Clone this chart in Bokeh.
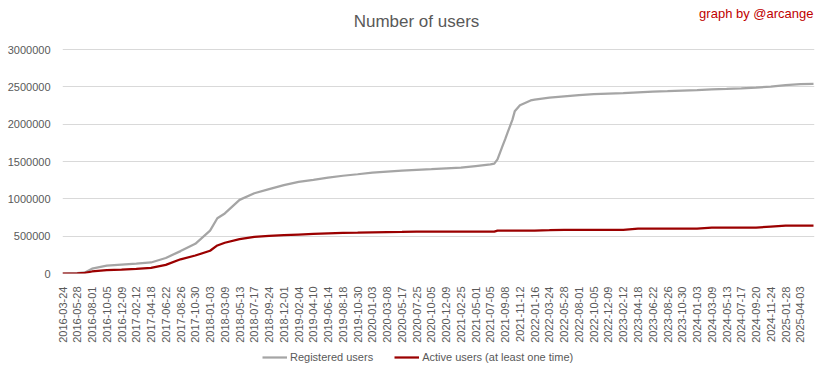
import math
from datetime import date
import numpy as np
from bokeh.plotting import figure
from bokeh.layouts import column
from bokeh.models import (FixedTicker, Legend, LegendItem, Label, Range1d,
                          NumeralTickFormatter, ColumnDataSource)
from bokeh.embed import file_html
from bokeh.resources import INLINE

tick_labels = ["2016-03-24", "2016-05-28", "2016-08-01", "2016-10-05", "2016-12-09",
               "2017-02-12", "2017-04-18", "2017-06-22", "2017-08-26", "2017-10-30",
               "2018-01-03", "2018-03-09", "2018-05-13", "2018-07-17", "2018-09-24",
               "2018-12-01", "2019-02-04", "2019-04-10", "2019-06-14", "2019-08-18",
               "2019-10-30", "2020-01-03", "2020-03-08", "2020-05-17", "2020-07-25",
               "2020-10-05", "2020-12-09", "2021-02-25", "2021-05-01", "2021-07-05",
               "2021-09-08", "2021-11-12", "2022-01-16", "2022-03-24", "2022-05-28",
               "2022-08-01", "2022-10-05", "2022-12-09", "2023-02-12", "2023-04-18",
               "2023-06-22", "2023-08-26", "2023-10-30", "2024-01-03", "2024-03-09",
               "2024-05-13", "2024-07-17", "2024-09-20", "2024-11-24", "2025-01-28",
               "2025-04-03"]

dates = ["2016-03-24", "2016-05-28", "2016-07-01", "2016-08-01", "2016-10-05", "2016-12-09",
         "2017-02-12", "2017-04-18", "2017-06-22", "2017-08-26", "2017-10-30",
         "2018-01-03", "2018-02-04", "2018-03-09", "2018-05-13", "2018-07-17", "2018-09-24",
         "2018-12-01", "2019-02-04", "2019-04-10", "2019-06-14", "2019-08-18",
         "2019-10-30", "2020-01-03", "2020-03-08", "2020-05-17", "2020-07-25",
         "2020-10-05", "2020-12-09", "2021-02-25", "2021-05-01", "2021-07-05",
         "2021-07-22", "2021-08-05", "2021-08-27", "2021-09-08", "2021-09-18",
         "2021-10-10", "2021-10-20", "2021-11-12", "2021-12-29", "2022-01-16",
         "2022-03-24", "2022-05-28", "2022-08-01", "2022-10-05", "2022-12-09",
         "2023-02-12", "2023-04-18", "2023-06-22", "2023-08-26", "2023-10-30",
         "2024-01-03", "2024-03-09", "2024-05-13", "2024-07-17", "2024-09-20",
         "2024-11-24", "2025-01-28", "2025-04-03", "2025-05-31"]

registered = [0, 5000, 15000, 65000, 105000, 120000,
              133000, 148000, 208000, 300000, 398000,
              575000, 740000, 805000, 987000, 1075000, 1130000,
              1185000, 1228000, 1255000, 1285000, 1310000,
              1330000, 1352000, 1366000, 1379000, 1390000,
              1398000, 1408000, 1418000, 1440000, 1462000,
              1473000, 1530000, 1707000, 1800000, 1885000,
              2062000, 2173000, 2255000, 2319000, 2330000,
              2358000, 2375000, 2392000, 2405000, 2412000,
              2418000, 2428000, 2438000, 2443000, 2450000,
              2457000, 2466000, 2473000, 2481000, 2490000,
              2505000, 2525000, 2537000, 2542000]

active = [0, 2000, 8000, 27000, 45000, 53000,
          62000, 76000, 115000, 190000, 241000,
          305000, 376000, 412000, 460000, 490000, 503000,
          513000, 522000, 531000, 538000, 545000,
          548000, 552000, 555000, 558000, 562000,
          562000, 562000, 562000, 562000, 562000,
          562000, 575000, 575000, 575000, 575000,
          575000, 575000, 575000, 575000, 575000,
          580000, 586000, 586000, 586000, 586000,
          586000, 601000, 601000, 601000, 601000,
          601000, 615000, 615000, 615000, 615000,
          628000, 641000, 641000, 641000]

y_ticks = [0, 500000, 1000000, 1500000, 2000000, 2500000, 3000000]


def to_ord(s):
    y, m, d = map(int, s.split("-"))
    return date(y, m, d).toordinal()


tick_ord = np.array([to_ord(s) for s in tick_labels], dtype=float)
tick_pos = np.arange(len(tick_labels), dtype=float)


def cat_pos(s):
    o = to_ord(s)
    if o > tick_ord[-1]:
        return tick_pos[-1] + (o - tick_ord[-1]) / 65.0
    return float(np.interp(o, tick_ord, tick_pos))


xs = [cat_pos(s) for s in dates]
src = ColumnDataSource(dict(x=xs, reg=registered, act=active))

FONT = "Liberation Sans"
TXT = "#595959"
GRAY = "#a5a5a5"
RED = "#9b0000"

# layout (px)
W, H = 816, 345
B_LEFT, B_RIGHT, B_TOP, B_BOTTOM = 62, 2, 0, 70
frame_w = W - B_LEFT - B_RIGHT
frame_h = H - B_TOP - B_BOTTOM
grid_top_px = 49.5           # top gridline, measured from frame top
data_w_px = 751.0            # width used by the data, from frame left

x_end = cat_pos(dates[-1]) * frame_w / data_w_px
y_end = y_ticks[-1] * frame_h / (frame_h - grid_top_px)

p = figure(width=W, height=H, output_backend="svg", toolbar_location=None, title=None,
           x_range=Range1d(0, x_end), y_range=Range1d(0, y_end),
           min_border_left=B_LEFT, min_border_right=B_RIGHT,
           min_border_top=B_TOP, min_border_bottom=B_BOTTOM)
p.outline_line_color = None
p.background_fill_color = "white"
p.border_fill_color = "white"

p.xgrid.grid_line_color = None
p.ygrid.grid_line_color = "#d9d9d9"
p.ygrid.grid_line_width = 1
p.yaxis.ticker = FixedTicker(ticks=y_ticks)
p.yaxis.formatter = NumeralTickFormatter(format="0")
p.xaxis.ticker = FixedTicker(ticks=list(range(len(tick_labels))))
p.xaxis.major_label_overrides = {i: t for i, t in enumerate(tick_labels)}
p.xaxis.major_label_orientation = math.pi / 2

for ax in (p.xaxis, p.yaxis):
    ax.axis_line_color = None
    ax.major_tick_line_color = None
    ax.minor_tick_line_color = None
    ax.major_label_text_font = FONT
    ax.major_label_text_font_size = "11px"
    ax.major_label_text_color = TXT
p.yaxis.major_label_standoff = 6
p.xaxis.major_label_standoff = 7

p.line("x", "reg", source=src, line_color=GRAY, line_width=2.25)
p.line("x", "act", source=src, line_color=RED, line_width=2.25)

p.add_layout(Label(x=354, y=frame_h - 23, x_units="screen", y_units="screen",
                   text="Number of users", text_font=FONT, text_font_size="17px",
                   text_color=TXT, text_align="center", text_baseline="middle"))
p.add_layout(Label(x=frame_w - 1, y=frame_h - 15, x_units="screen", y_units="screen",
                   text="graph by @arcange", text_font=FONT, text_font_size="13px",
                   text_color="#c00000", text_align="right", text_baseline="middle"))

# legend strip below the chart (its frame is aligned with the chart's frame)
LH = 18
q = figure(width=W, height=LH, output_backend="svg", toolbar_location=None, title=None,
           x_range=Range1d(0, 1), y_range=Range1d(-2, -1),
           x_axis_type=None, y_axis_type=None, min_border=0)
q.outline_line_color = None
q.xgrid.visible = False
q.ygrid.visible = False
g1 = q.line("x", "reg", source=src, line_color=GRAY, line_width=2.25, visible=False)
g2 = q.line("x", "act", source=src, line_color=RED, line_width=2.25, visible=False)
legend = Legend(items=[LegendItem(label="Registered users", renderers=[g1]),
                       LegendItem(label="Active users (at least one time)", renderers=[g2])],
                location=(200, 0), orientation="horizontal",
                padding=0, margin=0, spacing=21, label_standoff=3,
                glyph_width=25, glyph_height=12, label_height=12,
                label_text_font=FONT, label_text_font_size="11px", label_text_color=TXT,
                inactive_fill_alpha=0,
                border_line_color=None, background_fill_alpha=0)
q.add_layout(legend, "center")

layout = column(p, q, spacing=0)
open("out.html", "w").write(file_html(layout, INLINE))
